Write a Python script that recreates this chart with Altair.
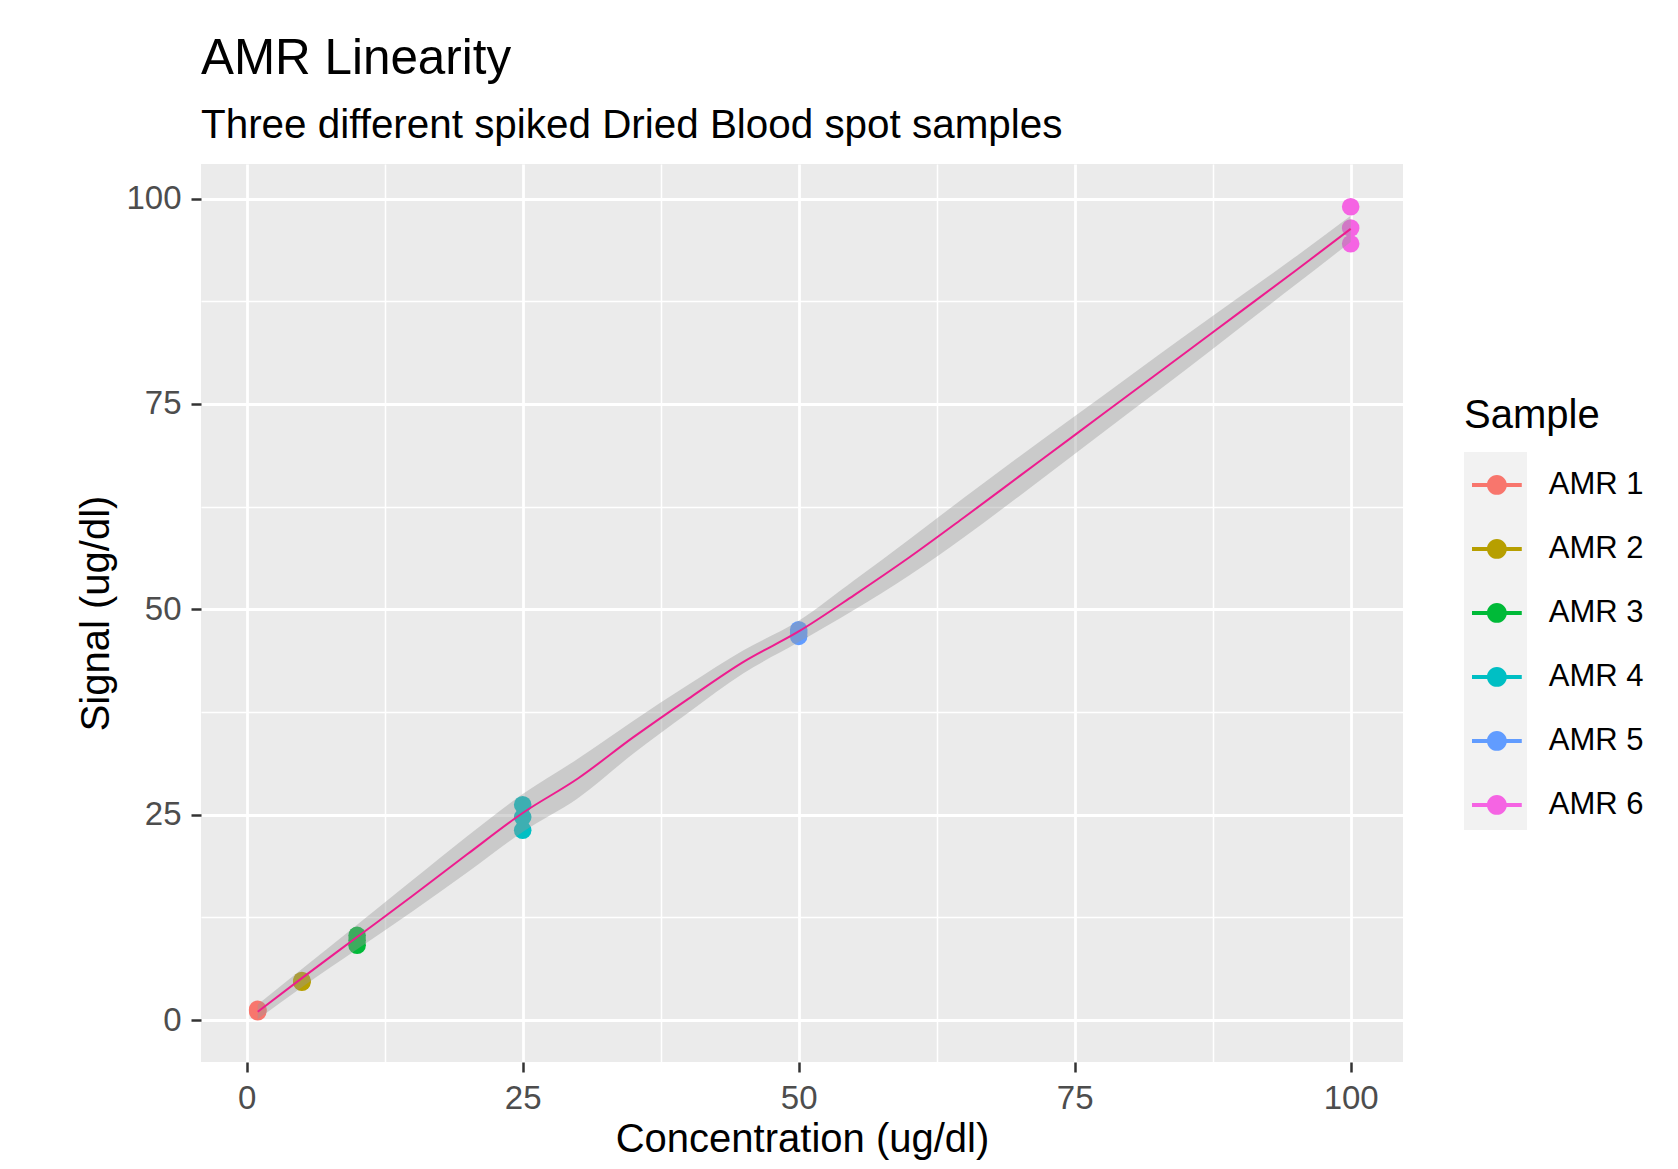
import altair as alt
import pandas as pd

FONT = "Liberation Sans"

samples = ["AMR 1", "AMR 2", "AMR 3", "AMR 4", "AMR 5", "AMR 6"]
colors = ["#F8766D", "#B79F00", "#00BA38", "#00BFC4", "#619CFF", "#F564E3"]

point_sample = ["AMR 1"] * 3 + ["AMR 2"] * 3 + ["AMR 3"] * 3 + ["AMR 4"] * 3 + ["AMR 5"] * 3 + ["AMR 6"] * 3
point_conc = [1, 1, 1, 5, 5, 5, 10, 10, 10, 25, 25, 25, 50, 50, 50, 100, 100, 100]
point_signal = [1.2, 1.0, 1.3, 4.7, 4.8, 4.6, 10.3, 9.7, 9.1, 26.2, 24.7, 23.1, 47.5, 47.1, 46.7, 99.0, 96.4, 94.5]

fit_conc = [1, 5, 10, 15, 20, 25, 30, 35, 40, 45, 50, 55, 60, 65, 70, 75, 80, 85, 90, 95, 100]
fit_signal = [1.0, 5.1, 10.1, 15.1, 20.2, 25.2, 29.4, 34.4, 39.1, 43.6, 47.3, 51.7, 56.3, 61.2, 66.2, 71.2, 76.2, 81.2, 86.2, 91.2, 96.3]
fit_lower = [0.1, 4.0, 8.6, 13.2, 18.0, 22.9, 27.0, 32.4, 37.4, 42.2, 46.0, 49.9, 54.1, 58.8, 63.8, 68.9, 74.0, 79.1, 84.3, 89.5, 94.7]
fit_upper = [1.9, 6.2, 11.6, 17.0, 22.4, 27.5, 31.8, 36.4, 40.8, 45.0, 48.6, 53.5, 58.5, 63.6, 68.6, 73.5, 78.4, 83.3, 88.1, 92.9, 97.9]

grid_values = [0, 12.5, 25, 37.5, 50, 62.5, 75, 87.5, 100]

pts = pd.DataFrame({"Sample": point_sample, "Concentration": point_conc, "Signal": point_signal})
fit = pd.DataFrame({"Concentration": fit_conc, "Fit": fit_signal, "Lower": fit_lower, "Upper": fit_upper})

x_scale = alt.Scale(domain=[-4.14, 104.74], nice=False, zero=False)
y_scale = alt.Scale(domain=[-5.11, 104.2], nice=False, zero=False)

major = "datum.value % 25 === 0"
common_axis = dict(
    values=grid_values,
    labelExpr=f"{major} ? datum.label : ''",
    gridWidth={"condition": {"test": major, "value": 2.8}, "value": 1.5},
    tickOpacity={"condition": {"test": major, "value": 1}, "value": 0},
    gridColor="white",
    domain=False,
    tickColor="#333333",
    tickSize=10,
    tickWidth=2.5,
    labelColor="#4D4D4D",
    labelFont=FONT,
    labelFontSize=33,
    labelOverlap=False,
    labelFlush=False,
    labelPadding=10,
    titleFont=FONT,
    titleFontSize=40,
    titleFontWeight="normal",
    titleColor="black",
    titleBaseline="alphabetic",
)

x_axis = alt.Axis(title="Concentration (ug/dl)", titleY=89, **common_axis)
y_axis = alt.Axis(title="Signal (ug/dl)", titleAngle=270, titleX=-93, titleY=449, titleAlign="center", **common_axis)


def X(field):
    return alt.X(field, scale=x_scale, axis=x_axis)


def Y(field):
    return alt.Y(field, scale=y_scale, axis=y_axis)


# legend key: horizontal line + dot, placed inside a 63-px symbol column
symbol_path = "M-0.746,-0.063H0.834V0.063H-0.746Z M0.36,0A0.316,0.316,0,1,1,-0.272,0A0.316,0.316,0,1,1,0.36,0Z"
key_path = "M-1,-1H1V1H-1Z"

points = alt.Chart(pts).mark_circle(size=310, opacity=1).encode(
    x=X("Concentration:Q"),
    y=Y("Signal:Q"),
    color=alt.Color(
        "Sample:N",
        scale=alt.Scale(domain=samples, range=colors),
        legend=alt.Legend(
            title="Sample",
            orient="none",
            legendX=1263,
            legendY=232,
            padding=0,
            symbolType=symbol_path,
            symbolSize=3969,
            symbolStrokeWidth=0,
            symbolOpacity=1,
            labelFont=FONT,
            labelFontSize=31,
            labelColor="black",
            labelOffset=21.75,
            titleFont=FONT,
            titleFontSize=40,
            titleFontWeight="normal",
            titleColor="black",
            titleBaseline="top",
            titlePadding=17.4,
            rowPadding=17.0,
            zindex=2,
        ),
    ),
)

ribbon = alt.Chart(fit).mark_area(color="#999999", opacity=0.4, interpolate="monotone").encode(
    x=X("Concentration:Q"),
    y=Y("Lower:Q"),
    y2="Upper:Q",
)

line = alt.Chart(fit).mark_line(color="#EE1C8E", strokeWidth=2, interpolate="monotone").encode(
    x=X("Concentration:Q"),
    y=Y("Fit:Q"),
)

key_bg = alt.Chart(pts).transform_filter("datum.Signal < -1000").mark_point(
    filled=True, color="#F2F2F2", opacity=1
).encode(
    x=X("Concentration:Q"),
    y=Y("Signal:Q"),
    shape=alt.Shape(
        "Sample:N",
        scale=alt.Scale(domain=["k1", "k2", "k3", "k4", "k5", "k6"], range=[key_path] * 6),
        legend=alt.Legend(
            title=None,
            orient="none",
            legendX=1263,
            legendY=288,
            padding=0,
            symbolSize=3969,
            symbolFillColor="#F2F2F2",
            symbolStrokeWidth=0,
            symbolOpacity=1,
            labelExpr="''",
            labelFontSize=1,
            rowPadding=0,
            zindex=0,
        ),
    ),
)

chart = alt.layer(points, ribbon, line, key_bg).properties(
    width=1202,
    height=898,
    autosize=alt.AutoSizeParams(type="none"),
    padding={"left": 193, "top": 156, "right": 250, "bottom": 98},
    title=alt.TitleParams(
        "AMR Linearity",
        subtitle="Three different spiked Dried Blood spot samples",
        anchor="start",
        frame="group",
        font=FONT,
        subtitleFont=FONT,
        fontSize=49.4,
        subtitleFontSize=40.4,
        fontWeight="normal",
        color="black",
        subtitleColor="black",
        offset=17,
        subtitlePadding=21,
    ),
).configure_view(fill="#EBEBEB", strokeWidth=0)

chart.save("out.html", embed_options={"renderer": "svg", "actions": False})
